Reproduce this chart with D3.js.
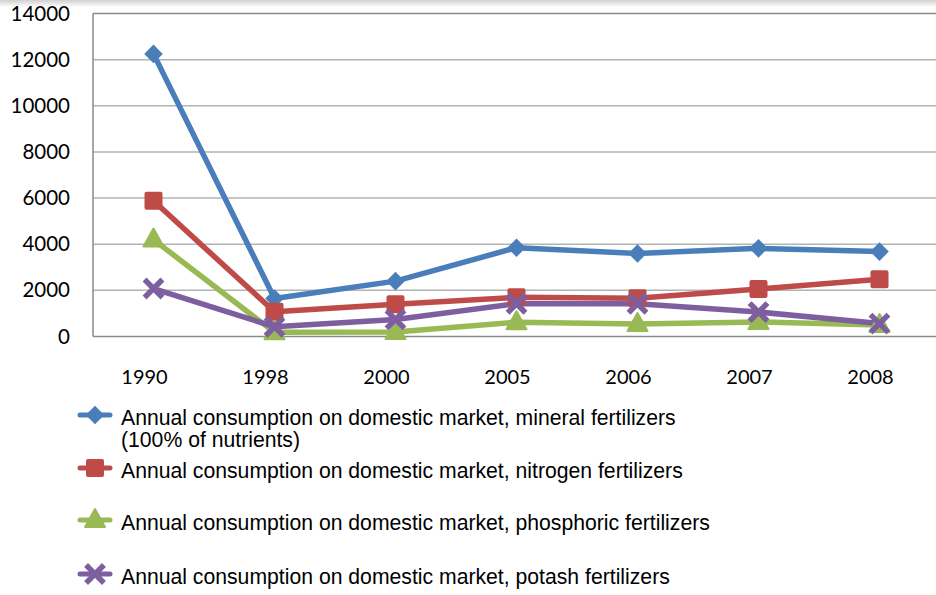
<!DOCTYPE html>
<html>
<head>
<meta charset="utf-8">
<script src="https://cdn.jsdelivr.net/npm/d3@7"></script>
<style>
body{margin:0;background:#fff;}
svg{display:block;}
</style>
</head>
<body>
<svg id="chart" width="936" height="595"></svg>
<script>
const years = ["1990","1998","2000","2005","2006","2007","2008"];
const mineral = [12250, 1650, 2400, 3850, 3600, 3820, 3680];
const nitrogen = [5880, 1070, 1400, 1700, 1660, 2060, 2480];
const phosphoric = [4200, 180, 200, 620, 540, 630, 500];
const potash = [2080, 420, 740, 1420, 1420, 1060, 560];
const yTicks = [0, 2000, 4000, 6000, 8000, 10000, 12000, 14000];
const seriesNames = [
  ["Annual consumption on domestic market, mineral fertilizers", "(100% of nutrients)"],
  ["Annual consumption on domestic market, nitrogen fertilizers"],
  ["Annual consumption on domestic market, phosphoric fertilizers"],
  ["Annual consumption on domestic market, potash fertilizers"]
];

const series = [
  {values: mineral, color: "#4a7ebb", symbol: "diamond"},
  {values: nitrogen, color: "#be4b48", symbol: "square"},
  {values: phosphoric, color: "#98b954", symbol: "triangle"},
  {values: potash, color: "#7d5fa0", symbol: "cross"}
];

const svg = d3.select("#chart");
const PLOT_LEFT = 93, PLOT_TOP = 13.5, PLOT_BOTTOM = 336.5;

const defs = svg.append("defs");
const grad = defs.append("linearGradient").attr("id","topshade")
  .attr("x1",0).attr("y1",0).attr("x2",0).attr("y2",1);
grad.append("stop").attr("offset","0%").attr("stop-color","#d0d0d0");
grad.append("stop").attr("offset","100%").attr("stop-color","#ffffff");
svg.append("rect").attr("x",0).attr("y",0).attr("width",936).attr("height",7)
  .attr("fill","url(#topshade)");

const x = d3.scaleBand().domain(years).range([PLOT_LEFT, PLOT_LEFT + 7*121]);
const y = d3.scaleLinear().domain([0, 14000]).range([PLOT_BOTTOM, PLOT_TOP]);

// gridlines
svg.append("g").selectAll("line").data(yTicks.filter(d => d > 0)).join("line")
  .attr("x1", PLOT_LEFT).attr("x2", 936)
  .attr("y1", d => y(d)).attr("y2", d => y(d))
  .attr("stroke", d => d === 14000 ? "#8a8a8a" : "#b3b3b3")
  .attr("stroke-width", 1.5);

// axes
svg.append("line").attr("x1", PLOT_LEFT).attr("x2", PLOT_LEFT).attr("y1", PLOT_TOP).attr("y2", PLOT_BOTTOM)
  .attr("stroke", "#8a8a8a").attr("stroke-width", 1.5);
svg.append("line").attr("x1", PLOT_LEFT).attr("x2", 936).attr("y1", PLOT_BOTTOM).attr("y2", PLOT_BOTTOM)
  .attr("stroke", "#8a8a8a").attr("stroke-width", 1.5);

svg.append("g").selectAll("text").data(yTicks).join("text")
  .attr("x", 70).attr("y", d => y(d) + 7)
  .attr("text-anchor", "end")
  .attr("font-family", "Lato, sans-serif").attr("font-size", 20.5)
  .attr("fill", "#000")
  .text(d => d);

svg.append("g").selectAll("text").data(years).join("text")
  .attr("x", d => x(d) + x.bandwidth()/2 - 9).attr("y", 384)
  .attr("text-anchor", "middle")
  .attr("font-family", "Lato, sans-serif").attr("font-size", 20)
  .attr("fill", "#000")
  .text(d => d);

function drawSymbol(g, type, color){
  if(type === "diamond"){
    g.append("path").attr("d", d3.symbol(d3.symbolDiamond2, 200)()).attr("fill", color)
      .attr("transform","scale(1.05,1.05)");
  }else if(type === "square"){
    g.append("rect").attr("x",-9).attr("y",-9).attr("width",18).attr("height",18)
      .attr("rx",2).attr("fill", color);
  }else if(type === "triangle"){
    g.append("path").attr("d","M0,-11 L10,7 L-10,7 Z").attr("fill", color)
      .attr("stroke", color).attr("stroke-width",2).attr("stroke-linejoin","round");
  }else{
    g.append("path").attr("d","M-7,-7 L7,7 M7,-7 L-7,7").attr("stroke", color)
      .attr("stroke-width",5.5).attr("stroke-linecap","square");
  }
}

const line = d3.line()
  .x((d,i) => x(years[i]) + x.bandwidth()/2)
  .y(d => y(d));

series.forEach(s => {
  svg.append("path").datum(s.values)
    .attr("d", line)
    .attr("fill","none").attr("stroke", s.color)
    .attr("stroke-width", 5.5).attr("stroke-linejoin","round");
});
series.forEach(s => {
  s.values.forEach((v,i) => {
    const g = svg.append("g")
      .attr("transform", "translate(" + [x(years[i]) + x.bandwidth()/2, y(v)] + ")");
    drawSymbol(g, s.symbol, s.color);
  });
});

// legend
const legendY = [415, 468, 520, 574];
series.forEach((s,i) => {
  const g = svg.append("g").attr("transform", "translate(95," + legendY[i] + ")");
  g.append("line").attr("x1",-15).attr("x2",15).attr("y1",0).attr("y2",0)
    .attr("stroke", s.color).attr("stroke-width",5).attr("stroke-linecap","round");
  drawSymbol(g, s.symbol, s.color);
  seriesNames[i].forEach((t,j) => {
    svg.append("text")
      .attr("x", 121).attr("y", legendY[i] + 10 + j*22)
      .attr("font-family","'Liberation Sans', Arial, sans-serif").attr("font-size", 21.2)
      .attr("fill","#000")
      .text(t);
  });
});
</script>
</body>
</html>
